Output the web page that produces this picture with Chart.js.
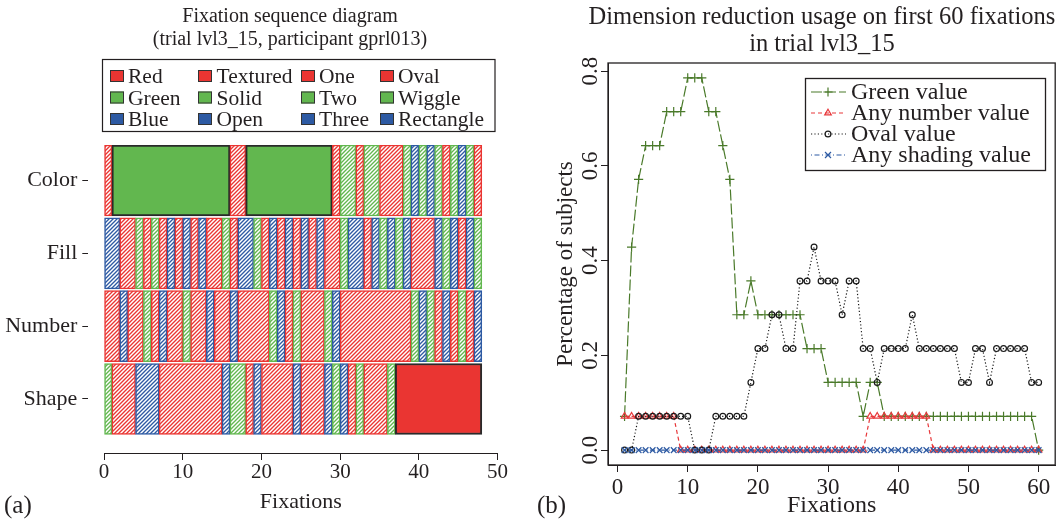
<!DOCTYPE html>
<html><head><meta charset="utf-8">
<script src="https://cdn.jsdelivr.net/npm/chart.js@4/dist/chart.umd.min.js"></script>
<style>
html,body{margin:0;padding:0;background:#fff;width:1061px;height:521px;overflow:hidden;}
#wa{position:absolute;left:0;top:0;width:530px;height:521px;}
#wb{position:absolute;left:530px;top:0;width:531px;height:521px;}
.pl{position:absolute;font-family:'Liberation Serif','Times New Roman',serif;font-size:25px;line-height:26px;color:#231f20;}
</style></head><body>
<div id="wa"><canvas id="ca"></canvas></div>
<div id="wb"><canvas id="cb"></canvas></div>
<div class="pl" style="left:4px;top:492px">(a)</div>
<div class="pl" style="left:537px;top:492px">(b)</div>
<script>
// ---------------- panel (a) data ----------------
const rowNames = ['Color', 'Fill', 'Number', 'Shape'];
// one code per fixation: r/g/b = textured (hatched) cell, R/G = solid cell
const colorSeq  = ('rGGGGGGGGG' + 'GGGGGGrrGG' + 'GGGGGGGGGr' + 'ggrggrrrgb' + 'gbgrgbgr').split('');
const fillSeq   = ('bbrrgrgrbr' + 'brbrrgrbbg' + 'rbrbrbrbrr' + 'gbbrbgbgbr' + 'rrbgbrbg').split('');
const numberSeq = ('rrbrrgrbrr' + 'grrbrrbrrr' + 'rgbrgrrrgb' + 'rrrrrrrrrg' + 'bgrbrgrb').split('');
const shapeSeq  = ('grrrbbbrrr' + 'rrrrrbggrb' + 'rrrrbrrrbg' + 'brgrrrgRRR' + 'RRRRRRRR').split('');
const xTicksA = [0, 10, 20, 30, 40, 50];
const legendColumns = [
  ['Red', 'Green', 'Blue'],
  ['Textured', 'Solid', 'Open'],
  ['One', 'Two', 'Three'],
  ['Oval', 'Wiggle', 'Rectangle']
];
const legendCodes = ['r', 'g', 'b'];

// ---------------- panel (b) data ----------------
const fixations = [1,2,3,4,5,6,7,8,9,10,11,12,13,14,15,16,17,18,19,20,21,22,23,24,25,26,27,28,29,30,
                   31,32,33,34,35,36,37,38,39,40,41,42,43,44,45,46,47,48,49,50,51,52,53,54,55,56,57,58,59,60];
const greenValue = [0.0714,0.4286,0.5714,0.6429,0.6429,0.6429,0.7143,0.7143,0.7143,0.7857,
                    0.7857,0.7857,0.7143,0.7143,0.6429,0.5714,0.2857,0.2857,0.3571,0.2857,
                    0.2857,0.2857,0.2857,0.2857,0.2857,0.2857,0.2143,0.2143,0.2143,0.1429,
                    0.1429,0.1429,0.1429,0.1429,0.0714,0.1429,0.1429,0.0714,0.0714,0.0714,
                    0.0714,0.0714,0.0714,0.0714,0.0714,0.0714,0.0714,0.0714,0.0714,0.0714,
                    0.0714,0.0714,0.0714,0.0714,0.0714,0.0714,0.0714,0.0714,0.0714,0];
const anyNumberValue = [0.0714,0.0714,0.0714,0.0714,0.0714,0.0714,0.0714,0.0714,0,0,
                        0,0,0,0,0,0,0,0,0,0,
                        0,0,0,0,0,0,0,0,0,0,
                        0,0,0,0,0,0.0714,0.0714,0.0714,0.0714,0.0714,
                        0.0714,0.0714,0.0714,0.0714,0,0,0,0,0,0,
                        0,0,0,0,0,0,0,0,0,0];
const ovalValue = [0,0,0.0714,0.0714,0.0714,0.0714,0.0714,0.0714,0.0714,0.0714,
                   0,0,0,0.0714,0.0714,0.0714,0.0714,0.0714,0.1429,0.2143,
                   0.2143,0.2857,0.2857,0.2143,0.2143,0.3571,0.3571,0.4286,0.3571,0.3571,
                   0.3571,0.2857,0.3571,0.3571,0.2143,0.2143,0.1429,0.2143,0.2143,0.2143,
                   0.2143,0.2857,0.2143,0.2143,0.2143,0.2143,0.2143,0.2143,0.1429,0.1429,
                   0.2143,0.2143,0.1429,0.2143,0.2143,0.2143,0.2143,0.2143,0.1429,0.1429];
const anyShadingValue = [0,0,0,0,0,0,0,0,0,0, 0,0,0,0,0,0,0,0,0,0, 0,0,0,0,0,0,0,0,0,0,
                         0,0,0,0,0,0,0,0,0,0, 0,0,0,0,0,0,0,0,0,0, 0,0,0,0,0,0,0,0,0,0];
const seriesNames = ['Green value', 'Any number value', 'Oval value', 'Any shading value'];
const xTicksB = [0, 10, 20, 30, 40, 50, 60];
const yTicksB = [0, 0.2, 0.4, 0.6, 0.8];

// ---------------- styling ----------------
const F = "'Liberation Serif','Times New Roman',serif";
const INK = '#231f20';
const hue = { r: '#EA3532', g: '#62B74F', b: '#2D5AA3' };

function hatch(col) {
  const s = 4, c = document.createElement('canvas');
  c.width = s; c.height = s;
  const g = c.getContext('2d');
  g.fillStyle = '#fff'; g.fillRect(0, 0, s, s);
  g.strokeStyle = col; g.lineWidth = 1.35;
  g.beginPath();
  g.moveTo(-1, s + 1); g.lineTo(s + 1, -1);
  g.moveTo(-1, 1); g.lineTo(1, -1);
  g.moveTo(s - 1, s + 1); g.lineTo(s + 1, s - 1);
  g.stroke();
  return g.createPattern(c, 'repeat');
}
const patterns = { r: hatch(hue.r), g: hatch(hue.g), b: hatch(hue.b) };
const isSolid = c => c === c.toUpperCase();

function toSegments() {
  const segs = [];
  [colorSeq, fillSeq, numberSeq, shapeSeq].forEach((seq, row) => {
    let start = 0;
    for (let i = 1; i <= seq.length; i++) {
      if (i === seq.length || seq[i] !== seq[start]) {
        segs.push({ x: [start, i], y: row, code: seq[start] });
        start = i;
      }
    }
  });
  return segs;
}

const decorA = {
  id: 'decorA',
  afterDraw(chart) {
    const ctx = chart.ctx, xs = chart.scales.x, a = chart.chartArea;
    ctx.save();
    // x axis line from first to last tick
    ctx.strokeStyle = INK; ctx.lineWidth = 1;
    ctx.beginPath();
    ctx.moveTo(xs.getPixelForValue(xTicksA[0]), a.bottom + 0.5);
    ctx.lineTo(xs.getPixelForValue(xTicksA[xTicksA.length - 1]), a.bottom + 0.5);
    ctx.stroke();
    ctx.fillStyle = INK;
    ctx.textAlign = 'center';
    ctx.textBaseline = 'middle';
    ctx.font = '20px ' + F;
    ctx.fillText('Fixation sequence diagram', 290, 17);
    ctx.fillText('(trial lvl3_15, participant gprl013)', 290, 40);
    // legend box
    ctx.strokeStyle = INK; ctx.lineWidth = 1.2;
    ctx.strokeRect(102.5, 59.5, 392.5, 72);
    const sqX = [110, 198, 301, 380], txX = [128, 216.5, 319, 398], rowY = [76, 97.5, 119];
    ctx.font = '21.5px ' + F;
    ctx.textAlign = 'left';
    ctx.textBaseline = 'alphabetic';
    legendColumns.forEach((col, ci) => {
      col.forEach((name, ri) => {
        ctx.fillStyle = hue[legendCodes[ri]];
        ctx.fillRect(sqX[ci], rowY[ri] - 6, 14, 12);
        ctx.strokeStyle = '#333'; ctx.lineWidth = 1;
        ctx.strokeRect(sqX[ci] + 0.5, rowY[ri] - 5.5, 13, 11);
        ctx.fillStyle = INK;
        ctx.fillText(name, txX[ci], rowY[ri] + 7);
      });
    });
    ctx.restore();
  }
};

new Chart(document.getElementById('ca'), {
  type: 'bar',
  data: {
    datasets: [{
      data: toSegments(),
      backgroundColor: ctx => {
        const c = ctx.raw && ctx.raw.code; if (!c) return 'transparent';
        return isSolid(c) ? hue[c.toLowerCase()] : patterns[c];
      },
      borderColor: ctx => {
        const c = ctx.raw && ctx.raw.code; if (!c) return 'transparent';
        return isSolid(c) ? '#2a2a2a' : hue[c];
      },
      borderWidth: ctx => (ctx.raw && isSolid(ctx.raw.code)) ? 2 : 1.5,
      borderSkipped: false,
      barThickness: 71
    }]
  },
  options: {
    indexAxis: 'y',
    responsive: true, maintainAspectRatio: false, animation: false,
    layout: { padding: { top: 145, right: 16.7, left: 0, bottom: 0 } },
    plugins: { legend: { display: false }, tooltip: { enabled: false } },
    scales: {
      x: {
        type: 'linear', min: -2, max: 52,
        afterBuildTicks: s => { s.ticks = xTicksA.map(v => ({ value: v })); },
        afterFit: s => { s.height = 68; },
        grid: { drawOnChartArea: false, drawTicks: true, tickLength: 7, color: INK, lineWidth: 1 },
        border: { display: false },
        ticks: { font: { family: F, size: 21 }, color: INK, padding: 0, maxRotation: 0 },
        title: { display: true, text: 'Fixations', font: { family: F, size: 22 }, color: INK, padding: { top: 0, bottom: 6 } }
      },
      y: {
        type: 'linear', reverse: true, offset: false, min: -0.4874, max: 3.742,
        afterBuildTicks: s => { s.ticks = rowNames.map((_, i) => ({ value: i })); },
        afterFit: s => { s.width = 88.3; },
        grid: { offset: false, drawOnChartArea: false, drawTicks: true, tickLength: 6, color: INK, lineWidth: 1 },
        border: { display: false },
        ticks: { callback: v => rowNames[v], font: { family: F, size: 22 }, color: INK, padding: 5 }
      }
    }
  },
  plugins: [decorA]
});

// ---------------- panel (b) ----------------
const styleB = [
  { color: '#4A7A2A', dash: [11, 3], pt: 'cross', r: 4.6, order: 4 },
  { color: '#E8383B', dash: [4, 3], pt: 'triangle', r: 3.8, order: 3 },
  { color: '#1a1a1a', dash: [1.2, 2.2], pt: 'circle', r: 2.9, order: 2 },
  { color: '#2D5AA3', dash: [1, 2.5, 5, 2.5], pt: 'crossRot', r: 4, order: 1 }
];
const valuesB = [greenValue, anyNumberValue, ovalValue, anyShadingValue];

function marker(ctx, st, x, y) {
  ctx.save();
  ctx.strokeStyle = st.color; ctx.lineWidth = 1.2; ctx.setLineDash([]);
  ctx.beginPath();
  const r = st.r;
  if (st.pt === 'cross') { ctx.moveTo(x - r, y); ctx.lineTo(x + r, y); ctx.moveTo(x, y - r); ctx.lineTo(x, y + r); }
  else if (st.pt === 'crossRot') { const d = r * 0.75; ctx.moveTo(x - d, y - d); ctx.lineTo(x + d, y + d); ctx.moveTo(x - d, y + d); ctx.lineTo(x + d, y - d); }
  else if (st.pt === 'circle') { ctx.arc(x, y, r, 0, Math.PI * 2); }
  else if (st.pt === 'triangle') { ctx.moveTo(x, y - r); ctx.lineTo(x + r * 0.87, y + r * 0.5); ctx.lineTo(x - r * 0.87, y + r * 0.5); ctx.closePath(); }
  ctx.stroke();
  ctx.restore();
}

const decorB = {
  id: 'decorB',
  afterDraw(chart) {
    const ctx = chart.ctx, a = chart.chartArea, ys = chart.scales.y;
    ctx.save();
    ctx.strokeStyle = INK; ctx.lineWidth = 1.3;
    ctx.strokeRect(a.left, a.top, a.right - a.left, a.bottom - a.top);
    ctx.fillStyle = INK;
    ctx.font = '23px ' + F;
    ctx.textAlign = 'center'; ctx.textBaseline = 'middle';
    yTicksB.forEach(v => {
      ctx.save();
      ctx.translate(61, ys.getPixelForValue(v));
      ctx.rotate(-Math.PI / 2);
      ctx.fillText(v.toFixed(1), 0, 0);
      ctx.restore();
    });
    ctx.font = '24.5px ' + F;
    ctx.fillText('Dimension reduction usage on first 60 fixations', 292, 18);
    ctx.fillText('in trial lvl3_15', 292, 45);
    // legend
    ctx.font = '24px ' + F;
    ctx.lineWidth = 1.3;
    ctx.strokeRect(275.5, 78.5, 240, 92);
    const rowY = [92, 113, 134, 155];
    ctx.textAlign = 'left';
    seriesNames.forEach((name, i) => {
      const st = styleB[i], y = rowY[i];
      ctx.save();
      ctx.strokeStyle = st.color; ctx.lineWidth = 1.2; ctx.setLineDash(st.dash);
      ctx.beginPath(); ctx.moveTo(281, y); ctx.lineTo(316, y); ctx.stroke();
      ctx.restore();
      marker(ctx, st, 298, y);
      ctx.fillStyle = INK;
      ctx.fillText(name, 321, y + 1);
    });
    ctx.restore();
  }
};

new Chart(document.getElementById('cb'), {
  type: 'line',
  data: {
    datasets: valuesB.map((vals, i) => ({
      label: seriesNames[i],
      data: fixations.map((f, k) => ({ x: f, y: vals[k] })),
      borderColor: styleB[i].color,
      borderWidth: 1.2,
      borderDash: styleB[i].dash,
      pointStyle: styleB[i].pt,
      pointRadius: styleB[i].r,
      pointBorderColor: styleB[i].color,
      pointBackgroundColor: 'rgba(0,0,0,0)',
      pointBorderWidth: 1.2,
      fill: false, tension: 0,
      order: styleB[i].order
    }))
  },
  options: {
    responsive: true, maintainAspectRatio: false, animation: false,
    layout: { padding: { top: 63, right: 5, left: 0, bottom: 0 } },
    plugins: { legend: { display: false }, tooltip: { enabled: false } },
    scales: {
      x: {
        type: 'linear', min: -1.36, max: 62.36,
        afterBuildTicks: s => { s.ticks = xTicksB.map(v => ({ value: v })); },
        afterFit: s => { s.height = 56; },
        grid: { drawOnChartArea: false, drawTicks: true, tickLength: 7, color: INK, lineWidth: 1 },
        border: { display: true, color: INK, width: 1 },
        ticks: { font: { family: F, size: 23 }, color: INK, padding: 2, maxRotation: 0 },
        title: { display: true, text: 'Fixations', font: { family: F, size: 24 }, color: INK, padding: { top: 0, bottom: 1 } }
      },
      y: {
        type: 'linear', min: -0.0314, max: 0.8171,
        afterBuildTicks: s => { s.ticks = yTicksB.map(v => ({ value: v })); },
        afterFit: s => { s.width = 78; },
        grid: { drawOnChartArea: false, drawTicks: true, tickLength: 7, color: INK, lineWidth: 1 },
        border: { display: true, color: INK, width: 1 },
        ticks: { display: false },
        title: { display: true, text: 'Percentage of subjects', font: { family: F, size: 23 }, color: INK, padding: { top: 22, bottom: 0 } }
      }
    }
  },
  plugins: [decorB]
});
</script>
</body></html>
